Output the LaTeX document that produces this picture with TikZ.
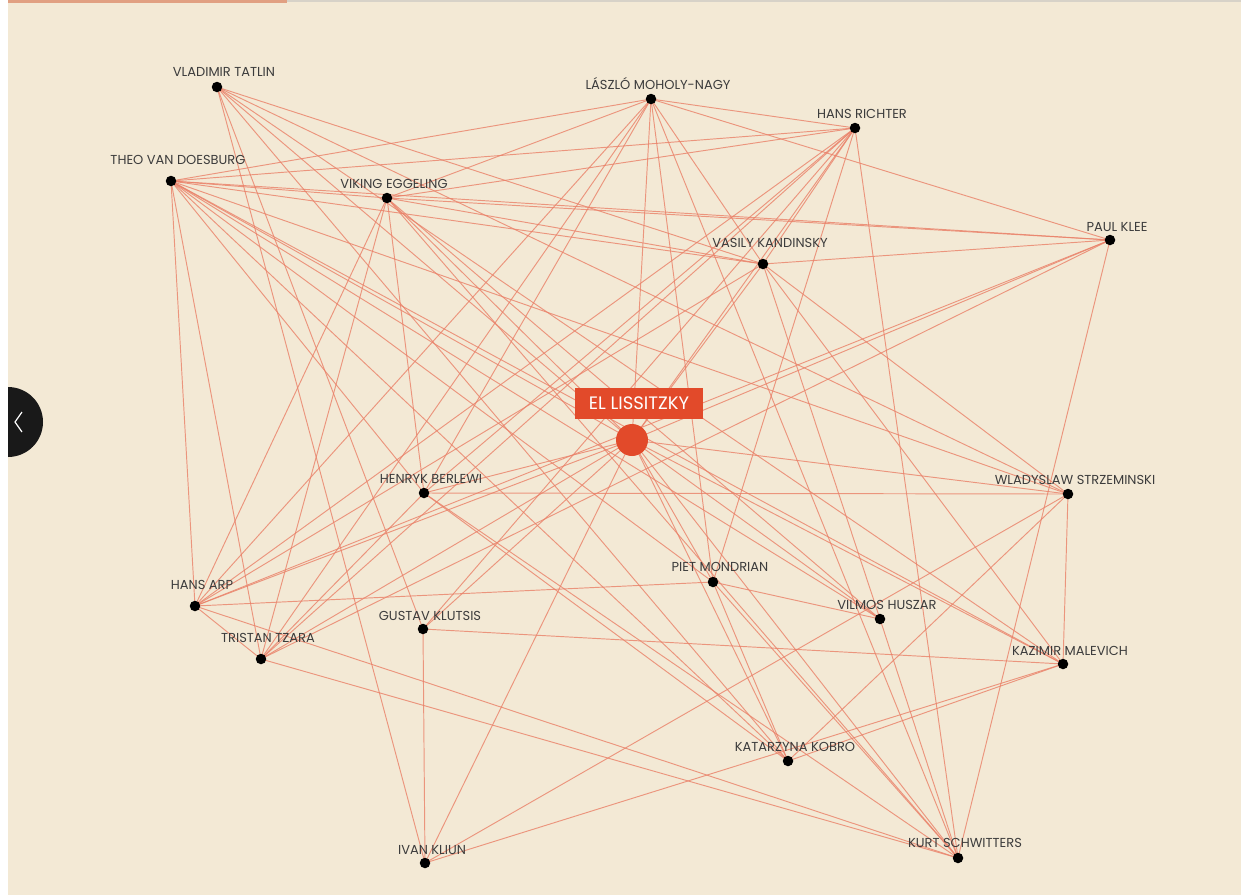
\documentclass[tikz,border=0pt]{standalone}
\usepackage{fontspec}
\setmainfont{Poppins}
\definecolor{bgcol}{RGB}{243,233,213}
\definecolor{edgecol}{RGB}{234,128,104}
\definecolor{hub}{RGB}{226,74,42}
\definecolor{labelgray}{RGB}{60,60,60}
\definecolor{topbar}{RGB}{225,160,130}
\definecolor{topgray}{RGB}{215,210,200}
\definecolor{btn}{RGB}{25,25,25}
\begin{document}
\begin{tikzpicture}[x=1pt,y=-1pt,
  dot/.style={circle,fill=black,inner sep=0pt,minimum size=10.5pt},
  lbl/.style={font=\fontsize{13}{13}\selectfont,text=labelgray,inner sep=0pt,anchor=base},
  edge/.style={draw=edgecol,line width=0.95pt,opacity=0.8}]
\fill[white] (0,0) rectangle (1241,895);
\fill[bgcol] (8,0) rectangle (1241,895);
\useasboundingbox (0,0) rectangle (1241,895);
\fill[topbar] (8,0) rectangle (287,2.5);
\fill[topgray] (287,0) rectangle (1241,2);
% positions
\coordinate (T) at (217,87);
\coordinate (M) at (651,99);
\coordinate (R) at (855,128);
\coordinate (D) at (171,181);
\coordinate (E) at (387,198);
\coordinate (P) at (1110,240);
\coordinate (K) at (763,264);
\coordinate (L) at (632,440);
\coordinate (B) at (424,493);
\coordinate (S) at (1068,494);
\coordinate (Mo) at (713,582);
\coordinate (A) at (195,606);
\coordinate (H) at (880,619);
\coordinate (G) at (423,629);
\coordinate (Z) at (261,659);
\coordinate (Ma) at (1063,664);
\coordinate (Ko) at (788,761);
\coordinate (Kl) at (425,863);
\coordinate (Sc) at (958,858);
% connectors
\foreach \a/\b in {L/T,L/M,L/R,L/D,L/E,L/P,L/K,L/B,L/S,L/Mo,L/A,L/H,L/G,L/Z,L/Ma,L/Ko,L/Kl,L/Sc,
  T/K,T/S,T/Ko,T/Kl,T/G,T/Ma,
  D/M,D/R,D/E,D/P,D/K,D/A,D/Z,D/S,D/B,D/Ko,D/Ma,D/H,D/Mo,
  E/R,E/M,E/P,E/K,E/A,E/Z,E/B,E/Sc,E/H,
  M/R,M/P,M/K,M/Mo,M/Sc,M/A,M/Z,M/B,
  R/K,R/A,R/Z,R/B,R/Mo,R/Sc,R/G,
  P/K,P/A,P/Z,P/Sc,
  K/S,K/Ma,K/H,K/A,
  B/S,B/Z,B/Sc,B/Ko,
  S/Ma,S/Ko,S/Kl,
  Mo/A,Mo/H,Mo/Sc,Mo/Ko,
  A/Z,A/Sc,H/Sc,G/Kl,G/Ma,Z/Sc,Ma/Ko,Ma/Kl}
  \draw[edge] (\a) -- (\b);
% dots and labels
\foreach \n/\t/\o in {T/{VLADIMIR TATLIN}/15,M/{LÁSZLÓ MOHOLY-NAGY}/14,R/{HANS RICHTER}/14,
  D/{THEO VAN DOESBURG}/21,E/{VIKING EGGELING}/14,P/{PAUL KLEE}/13,K/{VASILY KANDINSKY}/21,
  B/{HENRYK BERLEWI}/14,S/{WLADYSLAW STRZEMINSKI}/14,Mo/{PIET MONDRIAN}/15,A/{HANS ARP}/21,
  H/{VILMOS HUSZAR}/14,G/{GUSTAV KLUTSIS}/13,Z/{TRISTAN TZARA}/21,Ma/{KAZIMIR MALEVICH}/13,
  Ko/{KATARZYNA KOBRO}/14,Kl/{IVAN KLIUN}/13,Sc/{KURT SCHWITTERS}/15}
{
  \node[dot] (dot-\n) at (\n) {};
  \node[lbl] (lab-\n) at ([xshift=7pt,yshift={(\o-4.5)*1pt}]\n) {\t};
}
% hub
\node[circle,fill=hub,inner sep=0pt,minimum size=32pt] (dot-L) at (L) {};
\node[fill=hub,text=white,font=\fontsize{18}{18}\selectfont,minimum width=128pt,minimum height=31pt,inner sep=0pt] (lab-L) at (639,403) {EL LISSITZKY};
% back button
\fill[btn] (8,387) arc[start angle=-90,end angle=90,radius=35] -- cycle;
\draw[white,line width=1.2pt] (22,412) -- (15,422) -- (22,432);
\end{tikzpicture}
\end{document}
